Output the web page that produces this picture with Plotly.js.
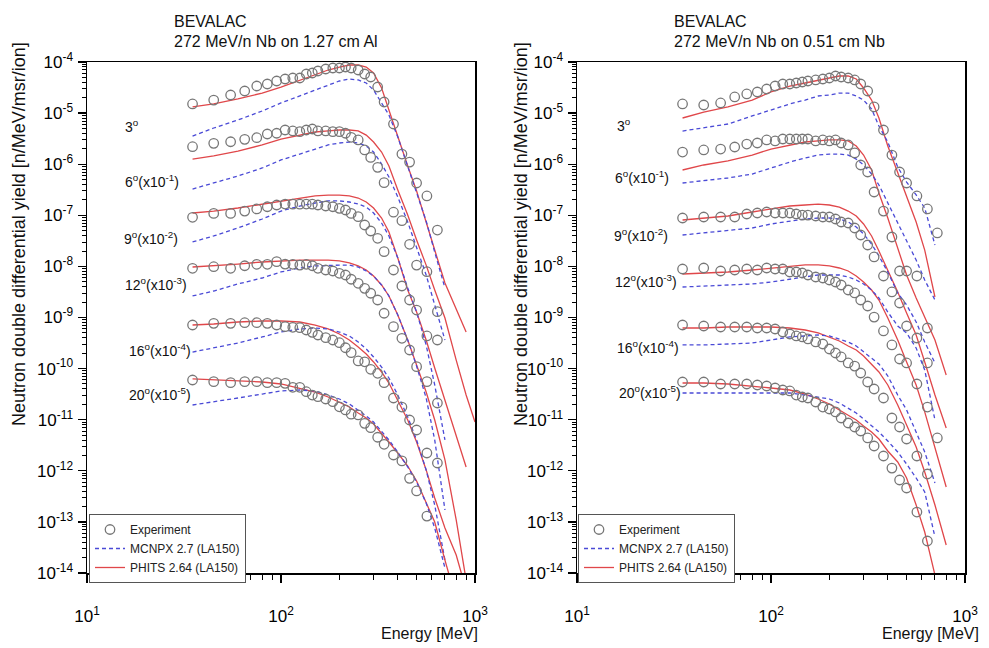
<!DOCTYPE html>
<html><head><meta charset="utf-8">
<script src="https://cdn.plot.ly/plotly-3.0.1.min.js"></script>
<style>body{margin:0;background:#fff}#chart{width:989px;height:648px}</style>
</head><body><div id="chart"></div>
<script>
// Energies [MeV]
const E_exp = [35,45,55,65,75,85,95,105,115,125,135,145,155,170,185,200,215,230,250,270,290,315,340,380,420,460,500,565,640,720];
const E_calc = [35,45,60,80,100,125,150,175,200,225,250,275,300,330,360,400,450,500,560,620,700,800,900,1000];
const angleLabels = ["3<sup>o</sup>","6<sup>o</sup>(x10<sup>-1</sup>)","9<sup>o</sup>(x10<sup>-2</sup>)","12<sup>o</sup>(x10<sup>-3</sup>)","16<sup>o</sup>(x10<sup>-4</sup>)","20<sup>o</sup>(x10<sup>-5</sup>)"];
const seriesNames = ["Experiment","MCNPX 2.7 (LA150)","PHITS 2.64 (LA150)"];
const xTickVals = [10,100,1000];
const xTickText = ["10<sup>1</sup>","10<sup>2</sup>","10<sup>3</sup>"];
const yTickVals = [1e-14,1e-13,1e-12,1e-11,1e-10,1e-9,1e-8,1e-7,1e-6,1e-5,1e-4];
const yTickText = ["10<sup>-14</sup>","10<sup>-13</sup>","10<sup>-12</sup>","10<sup>-11</sup>","10<sup>-10</sup>","10<sup>-9</sup>","10<sup>-8</sup>","10<sup>-7</sup>","10<sup>-6</sup>","10<sup>-5</sup>","10<sup>-4</sup>"];

// ---- Left: 272 MeV/n Nb on 1.27 cm Al ----
const alExp3  = [1.51e-5,1.80e-5,2.26e-5,2.71e-5,3.39e-5,3.71e-5,4.25e-5,4.65e-5,4.86e-5,4.86e-5,5.82e-5,6.09e-5,6.67e-5,7.30e-5,7.63e-5,7.63e-5,7.98e-5,7.63e-5,6.97e-5,5.82e-5,5.09e-5,3.24e-5,1.65e-5,6.12e-6,1.58e-6,1.10e-6,4.29e-7,2.39e-7,5.15e-8,null];
const alExp6  = [2.20e-6,2.56e-6,2.75e-6,3.07e-6,3.30e-6,3.90e-6,4.03e-6,4.67e-6,4.47e-6,4.33e-6,4.67e-6,4.89e-6,4.47e-6,4.47e-6,4.33e-6,4.33e-6,4.03e-6,3.36e-6,2.98e-6,1.90e-6,1.36e-6,8.69e-7,4.35e-7,1.15e-7,7.84e-8,2.71e-8,1.06e-8,7.87e-9,1.30e-9,null];
const alExp9  = [9.14e-8,1.09e-7,1.09e-7,1.21e-7,1.33e-7,1.47e-7,1.59e-7,1.66e-7,1.65e-7,1.65e-7,1.66e-7,1.65e-7,1.59e-7,1.52e-7,1.47e-7,1.37e-7,1.27e-7,1.09e-7,9.40e-8,6.46e-8,4.93e-8,3.55e-8,1.94e-8,8.51e-9,4.13e-9,2.20e-9,1.40e-9,4.35e-10,3.63e-10,null];
const alExp12 = [9.18e-9,9.86e-9,9.18e-9,1.03e-8,1.10e-8,1.10e-8,1.24e-8,1.11e-8,1.10e-8,1.06e-8,1.10e-8,1.03e-8,9.18e-9,8.51e-9,8.13e-9,7.33e-9,6.79e-9,5.60e-9,4.67e-9,3.72e-9,2.98e-9,2.20e-9,1.21e-9,6.61e-10,3.92e-10,2.31e-10,1.09e-10,5.55e-11,2.12e-11,null];
const alExp16 = [7.13e-10,7.69e-10,7.69e-10,7.91e-10,7.91e-10,7.69e-10,7.13e-10,6.61e-10,6.43e-10,6.31e-10,5.69e-10,5.13e-10,4.55e-10,4.03e-10,3.63e-10,3.21e-10,2.56e-10,2.05e-10,1.41e-10,1.36e-10,9.69e-11,8.09e-11,5.30e-11,2.66e-11,1.77e-11,9.86e-12,6.28e-12,2.23e-12,1.42e-12,null];
const alExp20 = [5.98e-11,5.55e-11,5.30e-11,5.55e-11,5.55e-11,5.30e-11,5.30e-11,5.15e-11,4.31e-11,4.31e-11,3.53e-11,3.04e-11,2.82e-11,2.54e-11,2.25e-11,1.79e-11,1.55e-11,1.28e-11,1.24e-11,8.49e-12,6.97e-12,4.53e-12,3.30e-12,2.04e-12,1.56e-12,7.13e-13,4.03e-13,1.30e-13,null,null];

const alMc3  = [3.56e-6,5.11e-6,7.33e-6,1.10e-5,1.58e-5,2.16e-5,2.83e-5,3.55e-5,4.25e-5,4.65e-5,4.45e-5,3.88e-5,2.83e-5,1.58e-5,9.18e-6,3.41e-6,9.22e-7,2.99e-7,7.74e-8,1.91e-8,3.78e-9,null,null,null];
const alMc6  = [3.27e-7,4.29e-7,5.87e-7,8.43e-7,1.21e-6,1.58e-6,1.98e-6,2.38e-6,2.60e-6,2.72e-6,2.60e-6,2.27e-6,1.73e-6,1.01e-6,5.62e-7,2.28e-7,7.40e-8,2.40e-8,6.79e-9,1.76e-9,3.63e-10,null,null,null];
const alMc9  = [3.01e-8,3.94e-8,5.65e-8,8.47e-8,1.21e-7,1.52e-7,1.74e-7,1.91e-7,1.91e-7,1.82e-7,1.66e-7,1.45e-7,1.11e-7,7.06e-8,3.94e-8,1.46e-8,3.78e-9,1.28e-9,2.90e-10,4.78e-11,4.01e-12,null,null,null];
const alMc12 = [2.64e-9,3.30e-9,4.53e-9,5.93e-9,7.78e-9,9.31e-9,1.02e-8,1.06e-8,1.06e-8,1.06e-8,9.73e-9,8.13e-9,6.49e-9,4.33e-9,2.64e-9,1.12e-9,3.63e-10,1.12e-10,2.66e-11,4.01e-12,1.71e-13,null,null,null];
const alMc16 = [2.11e-10,2.53e-10,3.17e-10,4.16e-10,5.20e-10,5.96e-10,6.24e-10,5.96e-10,5.20e-10,4.35e-10,3.32e-10,2.42e-10,1.69e-10,1.07e-10,6.55e-11,3.04e-11,1.13e-11,4.01e-12,1.04e-12,2.14e-13,1.79e-14,null,null,null];
const alMc20 = [1.94e-11,2.22e-11,2.66e-11,3.18e-11,3.65e-11,3.81e-11,3.65e-11,3.04e-11,2.54e-11,2.03e-11,1.55e-11,1.18e-11,9.02e-12,6.01e-12,4.01e-12,2.33e-12,1.19e-12,6.04e-13,2.34e-13,7.60e-14,1.25e-14,null,null,null];

const alPh3  = [1.33e-5,1.51e-5,1.89e-5,2.47e-5,3.24e-5,4.45e-5,5.57e-5,6.97e-5,7.98e-5,8.73e-5,8.73e-5,7.98e-5,6.09e-5,3.10e-5,1.15e-5,3.41e-6,9.22e-7,2.99e-7,7.74e-8,2.09e-8,4.73e-9,1.40e-9,5.20e-10,null];
const alPh6  = [1.26e-6,1.45e-6,1.81e-6,2.38e-6,3.11e-6,3.72e-6,4.27e-6,4.47e-6,4.67e-6,4.67e-6,4.47e-6,3.72e-6,2.72e-6,1.73e-6,9.22e-7,3.13e-7,1.01e-7,3.29e-8,1.06e-8,3.45e-9,9.77e-10,1.47e-10,3.04e-11,9.02e-12];
const alPh9  = [1.11e-7,1.21e-7,1.39e-7,1.66e-7,1.91e-7,2.18e-7,2.39e-7,2.49e-7,2.49e-7,2.39e-7,2.18e-7,1.82e-7,1.39e-7,8.85e-8,4.71e-8,1.46e-8,3.45e-9,1.28e-9,3.63e-10,1.03e-10,2.43e-11,5.02e-12,1.19e-12,null];
const alPh12 = [9.73e-9,1.02e-8,1.11e-8,1.22e-8,1.28e-8,1.33e-8,1.33e-8,1.33e-8,1.28e-8,1.17e-8,1.02e-8,8.51e-9,6.49e-9,4.33e-9,2.64e-9,1.12e-9,3.63e-10,1.18e-10,3.48e-11,9.86e-12,1.63e-12,1.09e-13,7.30e-15,null];
const alPh16 = [7.13e-10,7.46e-10,8.17e-10,8.55e-10,8.55e-10,8.17e-10,7.13e-10,5.96e-10,4.75e-10,3.63e-10,2.65e-10,1.93e-10,1.35e-10,8.59e-11,5.22e-11,2.43e-11,9.86e-12,3.66e-12,1.04e-12,2.94e-13,7.60e-14,2.25e-14,4.66e-15,null];
const alPh20 = [6.27e-11,5.98e-11,5.71e-11,5.47e-11,5.00e-11,4.17e-11,3.48e-11,2.78e-11,2.22e-11,1.77e-11,1.35e-11,1.08e-11,8.24e-12,5.50e-12,3.66e-12,2.23e-12,1.24e-12,6.32e-13,2.45e-13,9.95e-14,1.79e-14,2.96e-15,null,null];

// ---- Right: 272 MeV/n Nb on 0.51 cm Nb ----
const nbExp3  = [1.51e-5,1.44e-5,1.58e-5,2.07e-5,2.37e-5,2.59e-5,2.96e-5,3.39e-5,3.71e-5,3.71e-5,3.88e-5,4.06e-5,4.25e-5,4.45e-5,4.65e-5,4.86e-5,5.32e-5,5.09e-5,4.86e-5,4.45e-5,3.71e-5,2.71e-5,1.32e-5,4.67e-6,1.51e-6,7.04e-7,4.29e-7,2.39e-7,1.33e-7,4.51e-8];
const nbExp6  = [1.73e-6,1.90e-6,1.98e-6,2.17e-6,2.48e-6,2.60e-6,2.98e-6,2.85e-6,3.11e-6,3.11e-6,3.11e-6,3.11e-6,3.11e-6,2.85e-6,2.98e-6,2.85e-6,2.98e-6,2.60e-6,2.38e-6,1.66e-6,9.65e-7,7.04e-7,2.86e-7,1.21e-7,3.76e-8,8.13e-9,8.13e-9,6.49e-9,6.23e-10,null];
const nbExp9  = [8.86e-8,9.26e-8,9.26e-8,9.26e-8,1.06e-7,1.11e-7,1.16e-7,1.11e-7,1.11e-7,1.11e-7,1.06e-7,1.01e-7,1.01e-7,9.69e-8,9.26e-8,9.26e-8,8.47e-8,7.40e-8,7.07e-8,5.64e-8,4.12e-8,2.62e-8,1.53e-8,6.49e-9,3.16e-9,1.92e-9,6.82e-10,3.97e-10,1.29e-10,null];
const nbExp12 = [8.90e-9,9.31e-9,8.13e-9,8.50e-9,8.90e-9,8.50e-9,9.31e-9,8.90e-9,8.90e-9,7.77e-9,7.77e-9,7.43e-9,6.79e-9,6.20e-9,5.93e-9,5.42e-9,4.95e-9,4.33e-9,3.45e-9,3.02e-9,2.20e-9,1.68e-9,1.02e-9,5.45e-10,2.90e-10,1.54e-10,1.29e-10,5.00e-11,1.77e-11,4.39e-12];
const nbExp16 = [7.13e-10,6.82e-10,6.52e-10,6.52e-10,6.52e-10,6.23e-10,6.23e-10,5.96e-10,5.20e-10,4.75e-10,4.35e-10,4.16e-10,3.80e-10,3.32e-10,3.03e-10,2.42e-10,2.02e-10,1.69e-10,1.29e-10,1.12e-10,8.21e-11,5.47e-11,3.99e-11,2.66e-11,1.08e-11,7.20e-12,4.19e-12,1.95e-12,8.66e-13,null];
const nbExp20 = [5.47e-11,5.47e-11,5.00e-11,5.00e-11,5.00e-11,4.78e-11,4.57e-11,4.17e-11,3.81e-11,3.65e-11,3.04e-11,2.78e-11,2.66e-11,2.22e-11,1.77e-11,1.62e-11,1.42e-11,1.08e-11,8.62e-12,7.20e-12,6.01e-12,4.39e-12,3.06e-12,1.95e-12,1.13e-12,6.61e-13,4.61e-13,1.56e-13,4.23e-14,null];

const nbMc3  = [4.46e-6,5.11e-6,6.12e-6,8.78e-6,1.15e-5,1.51e-5,1.80e-5,2.16e-5,2.26e-5,2.47e-5,2.47e-5,2.16e-5,1.80e-5,1.20e-5,5.59e-6,2.72e-6,8.82e-7,4.48e-7,2.50e-7,1.39e-7,2.62e-8,null,null,null];
const nbMc6  = [4.29e-7,4.69e-7,5.37e-7,6.43e-7,8.43e-7,1.10e-6,1.32e-6,1.51e-6,1.58e-6,1.58e-6,1.51e-6,1.26e-6,9.65e-7,6.43e-7,3.92e-7,1.74e-7,7.40e-8,3.29e-8,1.33e-8,5.42e-9,2.20e-9,null,null,null];
const nbMc9  = [4.12e-8,4.51e-8,4.93e-8,5.64e-8,6.76e-8,7.74e-8,8.47e-8,8.86e-8,8.86e-8,8.47e-8,7.40e-8,5.90e-8,4.31e-8,2.74e-8,1.60e-8,7.77e-9,3.02e-9,1.76e-9,8.17e-10,3.32e-10,1.29e-10,null,null,null];
const nbMc12 = [3.95e-9,4.14e-9,4.33e-9,4.53e-9,4.95e-9,5.67e-9,6.20e-9,6.79e-9,6.79e-9,6.79e-9,6.20e-9,5.42e-9,4.53e-9,3.45e-9,2.41e-9,1.28e-9,6.82e-10,4.98e-10,2.53e-10,9.39e-11,9.87e-12,null,null,null];
const nbMc16 = [2.90e-10,2.90e-10,3.03e-10,3.17e-10,3.63e-10,4.16e-10,4.35e-10,4.55e-10,4.35e-10,3.80e-10,3.32e-10,2.77e-10,2.11e-10,1.61e-10,1.23e-10,7.17e-11,3.04e-11,1.55e-11,5.75e-12,2.33e-12,5.77e-13,null,null,null];
const nbMc20 = [3.33e-11,3.33e-11,3.33e-11,3.33e-11,3.33e-11,3.33e-11,3.04e-11,2.78e-11,2.54e-11,2.12e-11,1.69e-11,1.35e-11,1.03e-11,7.53e-12,5.75e-12,3.83e-12,2.33e-12,1.36e-12,7.23e-13,3.85e-13,5.07e-14,null,null,null];

const nbPh3  = [8.02e-6,1.05e-5,1.32e-5,1.80e-5,2.59e-5,3.39e-5,3.88e-5,4.44e-5,4.86e-5,5.32e-5,5.32e-5,4.65e-5,3.10e-5,1.80e-5,8.02e-6,2.27e-6,7.04e-7,2.50e-7,7.40e-8,2.09e-8,2.52e-9,null,null,null];
const nbPh6  = [7.70e-7,9.65e-7,1.16e-6,1.51e-6,1.98e-6,2.38e-6,2.72e-6,2.85e-6,2.98e-6,2.98e-6,2.85e-6,2.27e-6,1.51e-6,7.70e-7,2.73e-7,8.86e-8,2.19e-8,6.79e-9,2.41e-9,9.78e-10,3.63e-10,7.50e-11,null,null];
const nbPh9  = [8.09e-8,8.86e-8,9.69e-8,1.16e-7,1.33e-7,1.52e-7,1.59e-7,1.66e-7,1.59e-7,1.45e-7,1.21e-7,9.69e-8,6.76e-8,3.94e-8,2.00e-8,8.50e-9,3.16e-9,1.23e-9,4.55e-10,1.35e-10,3.04e-11,6.88e-12,null,null];
const nbPh12 = [7.10e-9,7.43e-9,7.77e-9,8.50e-9,9.31e-9,1.02e-8,1.07e-8,1.07e-8,1.02e-8,9.31e-9,8.13e-9,6.49e-9,4.95e-9,3.45e-9,2.20e-9,9.78e-10,3.63e-10,1.35e-10,4.78e-11,1.42e-11,2.92e-12,4.82e-13,null,null];
const nbPh16 = [6.23e-10,6.23e-10,6.52e-10,6.52e-10,6.52e-10,6.23e-10,5.69e-10,4.98e-10,4.16e-10,3.47e-10,2.77e-10,2.31e-10,1.77e-10,1.23e-10,8.58e-11,4.78e-11,1.94e-11,7.88e-12,2.92e-12,9.48e-13,2.14e-13,3.53e-14,null,null];
const nbPh20 = [5.23e-11,5.23e-11,5.00e-11,4.57e-11,4.17e-11,3.81e-11,3.18e-11,2.54e-11,2.03e-11,1.55e-11,1.24e-11,9.86e-12,7.53e-12,5.75e-12,4.19e-12,2.44e-12,1.49e-12,7.23e-13,2.14e-13,6.35e-14,9.14e-15,null,null,null];

const panels = [
  {xa:'x', ya:'y', legend:'legend', exp:[alExp3,alExp6,alExp9,alExp12,alExp16,alExp20], mc:[alMc3,alMc6,alMc9,alMc12,alMc16,alMc20], ph:[alPh3,alPh6,alPh9,alPh12,alPh16,alPh20]},
  {xa:'x2', ya:'y2', legend:'legend2', exp:[nbExp3,nbExp6,nbExp9,nbExp12,nbExp16,nbExp20], mc:[nbMc3,nbMc6,nbMc9,nbMc12,nbMc16,nbMc20], ph:[nbPh3,nbPh6,nbPh9,nbPh12,nbPh16,nbPh20]}
];

const FONT = 'Liberation Sans, Arial, sans-serif';
const RED = '#e0474a', BLUE = '#4a4ad6', GREY = '#777777';
const traces = [];
panels.forEach(p => {
  for (let i = 0; i < 6; i++) {
    traces.push({type:'scatter', mode:'lines', x:E_calc, y:p.ph[i], xaxis:p.xa, yaxis:p.ya, legend:p.legend,
      name:seriesNames[2], showlegend:i===0, legendrank:3, connectgaps:false,
      line:{color:RED, width:1.3}, hoverinfo:'skip'});
    traces.push({type:'scatter', mode:'lines', x:E_calc, y:p.mc[i], xaxis:p.xa, yaxis:p.ya, legend:p.legend,
      name:seriesNames[1], showlegend:i===0, legendrank:2, connectgaps:false,
      line:{color:BLUE, width:1.3, dash:'4px,3px'}, hoverinfo:'skip'});
    traces.push({type:'scatter', mode:'markers', x:E_exp, y:p.exp[i], xaxis:p.xa, yaxis:p.ya, legend:p.legend,
      name:seriesNames[0], showlegend:i===0, legendrank:1,
      marker:{symbol:'circle-open', size:9.5, color:GREY, line:{width:1.3, color:GREY}}, hoverinfo:'skip'});
  }
});

const W = 989, H = 648;
const px = v => v / W, py = v => 1 - v / H;

function xAxis(d0, d1, anchor) {
  return {domain:[px(d0), px(d1)], anchor:anchor, type:'log', range:[1,3],
    tickmode:'array', tickvals:xTickVals, ticktext:xTickText,
    showline:true, linecolor:'#000', linewidth:1.5, mirror:true,
    ticks:'outside', ticklen:8, tickwidth:1.3, tickcolor:'#000', showgrid:false, zeroline:false,
    ticklabelstandoff:19,
    tickfont:{family:FONT, size:17, color:'#000'},
    minor:{ticks:'outside', ticklen:5, tickwidth:1, tickcolor:'#000', dtick:'D1', showgrid:false}};
}
function yAxis(anchor) {
  return {domain:[1 - 573/H, 1 - 62/H], anchor:anchor, type:'log', range:[-14,-4],
    tickmode:'array', tickvals:yTickVals, ticktext:yTickText,
    showline:true, linecolor:'#000', linewidth:1.5, mirror:true,
    ticks:'outside', ticklen:8, tickwidth:1.3, tickcolor:'#000', showgrid:false, zeroline:false,
    ticklabelstandoff:1,
    tickfont:{family:FONT, size:17, color:'#000'},
    minor:{ticks:'outside', ticklen:4, tickwidth:1, tickcolor:'#000', dtick:'D1', showgrid:false}};
}
function legendBox(x0) {
  return {x:px(x0), y:py(514), xanchor:'left', yanchor:'top', bgcolor:'#fff', bordercolor:'#555', borderwidth:1,
    font:{family:FONT, size:12, color:'#222'}, tracegroupgap:0, itemwidth:30, traceorder:'normal'};
}

const ann = [];
const txt = (x, y, text, size, opts) => ann.push(Object.assign({xref:'paper', yref:'paper', x:px(x), y:py(y), text:text,
  showarrow:false, xanchor:'left', yanchor:'middle', font:{family:FONT, size:size, color:'#111'}}, opts||{}));
// panel titles
txt(172, 21, 'BEVALAC', 16);
txt(172, 42, '272 MeV/n Nb on 1.27 cm Al', 16);
txt(672, 21, 'BEVALAC', 16);
txt(672, 42, '272 MeV/n Nb on 0.51 cm Nb', 16);
// y titles
txt(19, 234, 'Neutron double differential yield [n/MeV/msr/ion]', 18, {xanchor:'center', textangle:-90});
txt(521, 234, 'Neutron double differential yield [n/MeV/msr/ion]', 18, {xanchor:'center', textangle:-90});
// x titles
txt(480, 633, 'Energy [MeV]', 16, {xanchor:'right'});
txt(981, 633, 'Energy [MeV]', 16, {xanchor:'right'});
// angle labels
const angY_L = [126, 181, 238, 284, 350, 394], angX_L = [123, 123, 122, 123, 127, 127];
const angY_R = [125, 177, 235, 281, 347, 392], angX_R = [615, 613, 612, 613, 615, 617];
for (let i = 0; i < 6; i++) {
  txt(angX_L[i], angY_L[i], angleLabels[i], 14);
  txt(angX_R[i], angY_R[i], angleLabels[i], 14);
}

const layout = {
  width:W, height:H, margin:{l:0, r:0, t:0, b:0}, paper_bgcolor:'#fff', plot_bgcolor:'#fff',
  showlegend:true, hovermode:false,
  xaxis:xAxis(87, 475, 'y'), yaxis:yAxis('x'),
  xaxis2:xAxis(577, 965, 'y2'), yaxis2:yAxis('x2'),
  legend:legendBox(89), legend2:legendBox(578),
  annotations:ann
};
Plotly.newPlot('chart', traces, layout, {staticPlot:true, displayModeBar:false});
</script></body></html>
